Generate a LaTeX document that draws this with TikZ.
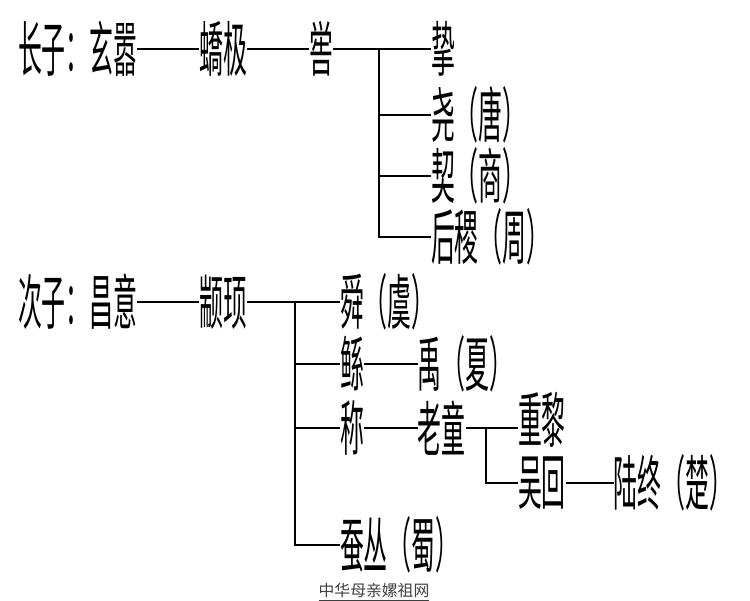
\documentclass[tikz,border=0pt]{standalone}
\usepackage{fontspec}
\usepackage{graphicx}
\usetikzlibrary{positioning}
\newfontfamily\cjk{Noto Sans CJK SC}
\newcommand\tall[1]{\scalebox{1}[2.5]{#1}}

\begin{document}
\begin{tikzpicture}[
    x=0.02cm, y=-0.02cm,
    node distance=1.24cm,
    person/.style={font=\cjk\fontsize{13.6pt}{14pt}\selectfont, inner sep=0pt, outer sep=0pt, anchor=west},
    branch/.style={line width=1.1pt},
    credit/.style={font=\cjk\fontsize{9pt}{10pt}\selectfont, text=black!75, inner sep=0pt}
]
\useasboundingbox (0,0) rectangle (750,600);

% eldest son
\node[person] (zhangzi) at (18,49) {\tall{长子：}};
\node[person, right=0pt of zhangzi] (xuanxiao) {\tall{玄嚣}};
\node[person, right=of xuanxiao] (jiaoji) {\tall{蟜极}};
\node[person, right=of jiaoji] (ku) {\tall{喾}};

\node[person] (zhi) at (431,49) {\tall{挚}};
\node[person] (yao) at (431,115) {\tall{尧（唐）}};
\node[person] (xie) at (431,176) {\tall{契（商）}};
\node[person] (houji) at (431,237) {\tall{后稷（周）}};

\coordinate (kufork) at (379,49);

\draw[branch] (xuanxiao) -- (jiaoji);
\draw[branch] (jiaoji) -- (ku);
\draw[branch] (ku) -- (zhi);
\draw[branch] (kufork) |- (houji.west);
\draw[branch] (kufork |- yao.west) -- (yao.west);
\draw[branch] (kufork |- xie.west) -- (xie.west);

% second son
\node[person] (cizi) at (18,302) {\tall{次子：}};
\node[person, right=0pt of cizi] (changyi) {\tall{昌意}};
\node[person, right=of changyi] (zhuanxu) {\tall{颛顼}};

\node[person] (shun) at (340,302) {\tall{舜（虞）}};
\node[person] (gun) at (340,364) {\tall{鲧}};
\node[person, right=1.08cm of gun] (yu) {\tall{禹（夏）}};
\node[person] (cheng) at (340,428) {\tall{称}};
\node[person, right=1.08cm of cheng] (laotong) {\tall{老童}};
\node[person] (chongli) at (518,420) {\tall{重黎}};
\node[person] (wuhui) at (518,483) {\tall{吴回}};
\node[person, right=0.96cm of wuhui] (luzhong) {\tall{陆终（楚）}};
\node[person] (cancong) at (340,545) {\tall{蚕丛（蜀）}};

\coordinate (xufork) at (295,302);
\coordinate (tongfork) at (486,428);

\draw[branch] (changyi) -- (zhuanxu);
\draw[branch] (zhuanxu) -- (shun);
\draw[branch] (xufork) |- (cancong.west);
\draw[branch] (xufork |- gun.west) -- (gun.west);
\draw[branch] (xufork |- cheng.west) -- (cheng.west);
\draw[branch] (gun) -- (yu);
\draw[branch] (cheng) -- (laotong);
\draw[branch] (laotong) -- (tongfork) -- (tongfork -| chongli.west);
\draw[branch] (tongfork) |- (wuhui.west);
\draw[branch] (wuhui) -- (luzhong);

\node[credit] (site) at (374,592) {\underline{中华母亲嫘祖网}};
\end{tikzpicture}
\end{document}
